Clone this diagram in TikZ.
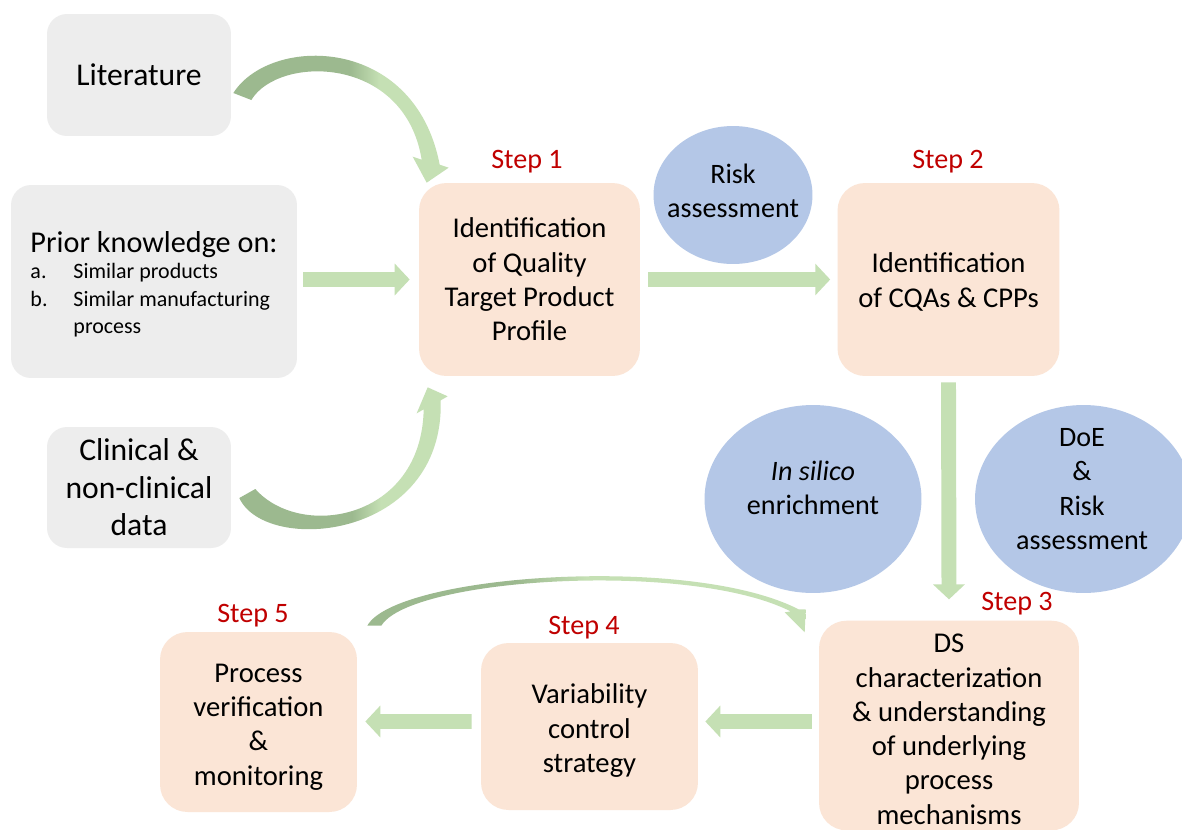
\documentclass[tikz,border=0pt]{standalone}
\usepackage{fontspec}
\setmainfont{Carlito}
\usepackage{tikz}
\usetikzlibrary{positioning}
\usetikzlibrary{arrows.meta,shapes}
\usetikzlibrary{calc}
\definecolor{boxgray}{HTML}{EDEDED}
\definecolor{peach}{HTML}{FBE5D6}
\definecolor{bubbleblue}{HTML}{B4C7E7}
\definecolor{arrowgreen}{HTML}{C5E0B4}
\definecolor{darkgreen}{HTML}{9CB98F}
\definecolor{stepred}{HTML}{C00000}
\pgfdeclarehorizontalshading{leafshade}{100bp}{color(0bp)=(darkgreen); color(52bp)=(darkgreen); color(59bp)=(arrowgreen); color(100bp)=(arrowgreen)}
\pgfdeclarehorizontalshading{thinshade}{100bp}{color(0bp)=(darkgreen); color(42bp)=(darkgreen); color(50bp)=(arrowgreen); color(100bp)=(arrowgreen)}
\tikzstyle{source}=[rectangle,rounded corners=0.4cm,fill=boxgray,align=center,font=\fontsize{18}{21.3}\selectfont]
\tikzstyle{stepbox}=[rectangle,rounded corners=0.55cm,fill=peach,align=center,font=\fontsize{16.3}{19.5}\selectfont]
\tikzstyle{bubble}=[ellipse,fill=bubbleblue,inner sep=0pt]
\tikzstyle{bubbletext}=[align=center,font=\fontsize{16}{19.5}\selectfont]
\tikzstyle{steplabel}=[text=stepred,font=\fontsize{16}{19}\selectfont]
\tikzstyle{blockarrow}=[draw=arrowgreen,line width=8.5pt,-{Triangle[width=17.6pt,length=8.5pt]}]

\begin{document}
\begin{tikzpicture}[x=0.02cm,y=-0.02cm]

  \useasboundingbox[fill=white] (0,0) rectangle (1182,829);

  % inputs on the left
  \node[source,minimum width=3.68cm,minimum height=2.44cm] (lit) at (139,75) {Literature};
  \node[source,align=left,minimum width=5.72cm,minimum height=3.86cm] (prior) at (154,281.5)
     {\fontsize{12.5}{15.6}\selectfont
      \begin{tabular}[t]{@{}p{0.86cm}@{}l@{}}
      \multicolumn{2}{@{}l@{}}{\rule{0pt}{18pt}\fontsize{17.2}{20}\selectfont Prior knowledge on:}\\[-1pt]
      a. & Similar products\\
      b. & Similar manufacturing\\
         & process
      \end{tabular}};
  \node[source,minimum width=3.68cm,minimum height=2.42cm] (clin) at (139,487.5) {Clinical \&\\non-clinical\\data};

  % the five steps (rules push the text block down a bit)
  \node[stepbox,minimum width=4.42cm,minimum height=3.86cm] (s1) at (529.5,279.5) {Identification\\of Quality\\Target Product\\Profile};
  \node[stepbox,minimum width=4.44cm,minimum height=3.86cm] (s2) at (948.5,279.5) {\rule{0pt}{14pt}Identification\\of CQAs \& CPPs};
  \node[stepbox,minimum width=5.2cm,minimum height=4.14cm] (s3) at (949,725.5) {\rule{0pt}{15pt}DS\\characterization\\\& understanding\\of underlying\\process\\mechanisms};
  \node[stepbox,minimum width=4.34cm,minimum height=3.34cm] (s4) at (589.5,726.5) {\rule{0pt}{16pt}Variability\\control\\strategy};
  \node[stepbox,minimum width=3.94cm,minimum height=3.6cm] (s5) at (258.5,722) {\rule{0pt}{16pt}Process\\verification\\\&\\monitoring};

  \foreach \x/\y/\num in {527/162/1, 948/162/2, 1017/604/3, 584/628/4, 253/616/5}
      \node[steplabel] (lab\num) at (\x,\y) {Step \num};

  % tools
  \node[bubble,minimum width=3.18cm,minimum height=2.76cm] (risk) at (733,195) {};
  \node[bubble,minimum width=4.34cm,minimum height=3.76cm] (silico) at (813,499) {};
  \node[bubble,minimum width=4.34cm,minimum height=3.76cm] (doe) at (1083.5,499) {};
  \node[bubbletext] (risktext) at (733,191) {Risk\\assessment};
  \node[bubbletext] (silicotext) at (813,488) {\textit{In silico}\\enrichment};
  \node[bubbletext] (doetext) at (1082,489) {DoE\\\&\\Risk\\assessment};

  % main flow
  \draw[blockarrow] ($(prior.east |- s1.west)+(6,0)$) -- ($(s1.west)+(-9,0)$);
  \draw[blockarrow] ($(s1.east)+(8,0)$) -- ($(s2.west)+(-7,0)$);
  \draw[blockarrow] ($(s2.south)+(0,6)$) -- ($(s3.north)+(0,-21)$);
  \draw[blockarrow] ($(s3.west)+(-7,-4)$) -- ($(s4.east)+(7,-5)$);
  \draw[blockarrow] ($(s4.west)+(-9,-5)$) -- ($(s5.east)+(8,-0.5)$);

  % curved arrows into step 1
  \coordinate (littail) at ($(lit.east)+(2,18)$);
  \coordinate (littip) at ($(s1.north west)+(8,0)$);
  \shade[shading=leafshade] (littail) .. controls +(37,-58) and ($(littip)+(-12,-148)$) .. ($(littip)+(13,-18)$)
     -- ($(littip)+(22,-15)$) -- (littip) -- ($(littip)+(-14,-26)$) -- ($(littip)+(-5,-23)$)
     .. controls ($(littip)+(-22,-128)$) and ($(littail)+(45,-38)$) .. ($(littail)+(18,7)$) -- cycle;

  \coordinate (clintail) at ($(clin.east)+(8,10.5)$);
  \coordinate (clintip) at ($(s1.south west)+(9,11)$);
  \shade[shading=leafshade] (clintail) .. controls +(26,57) and ($(clintip)+(17,153)$) .. ($(clintip)+(13,13)$)
     -- ($(clintip)+(20,9)$) -- (clintip) -- ($(clintip)+(-11,26)$) -- ($(clintip)+(-4,22)$)
     .. controls ($(clintip)+(-6,133)$) and ($(clintail)+(61,42)$) .. ($(clintail)+(16,-9)$) -- cycle;

  % feedback from step 5 to step 3
  \coordinate (s5tail) at ($(s5.north east)+(10,-6)$);
  \coordinate (s3tip) at ($(s3.north west)+(-14,12)$);
  \shade[shading=thinshade] (s5tail) .. controls +(28,-51) and ($(s3tip)+(-115,-79)$) .. ($(s3tip)+(-6,-23)$)
     -- ($(s3tip)+(1,-23)$) -- (s3tip) -- ($(s3tip)+(-20,-20)$) -- ($(s3tip)+(-14,-21)$)
     .. controls ($(s3tip)+(-115,-72)$) and ($(s5tail)+(43,-48)$) .. ($(s5tail)+(14,0)$) -- cycle;

\end{tikzpicture}
\end{document}
